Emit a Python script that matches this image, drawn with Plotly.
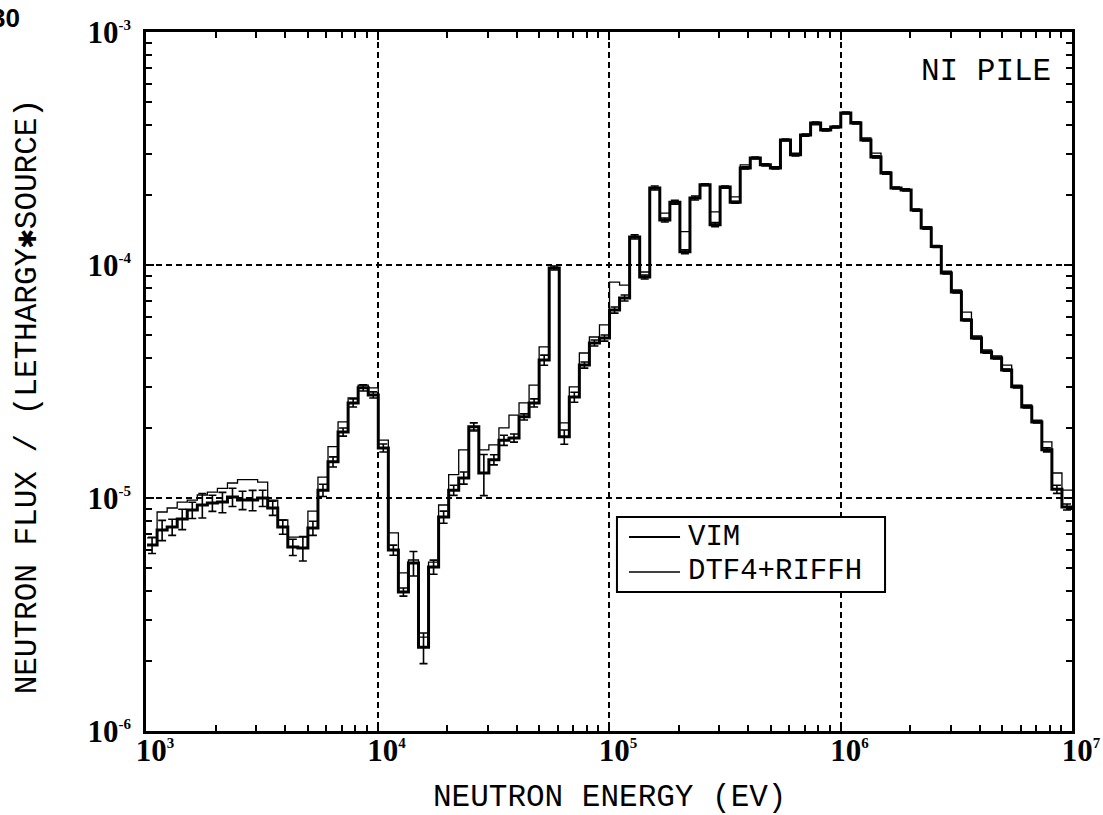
import plotly.graph_objects as go

# Multigroup energy boundaries (eV), lethargy width 0.1, ascending
energy_edges = [
    1010.4, 1116.7, 1234.1, 1363.9, 1507.3, 1665.8, 1841.0, 2034.7, 2248.7, 2485.2,
    2746.5, 3035.4, 3354.6, 3707.4, 4097.4, 4528.3, 5004.5, 5530.8, 6112.6, 6755.4,
    7465.8, 8251.0, 9118.8,
    10078, 11138, 12309, 13604, 15034, 16616, 18363, 20294, 22429, 24788,
    27394, 30276, 33460, 36979, 40868, 45166, 49916, 55166, 60967, 67379,
    74466, 82297, 90953,
    100520, 111090, 122770, 135690, 149960, 165730, 183160, 202420, 223710, 247240,
    273240, 301970, 333730, 368830, 407620, 450490, 497870, 550230, 608100, 672060,
    742740, 820850, 907180,
    1002600, 1108000, 1224600, 1353400, 1495700, 1653000, 1826800, 2019000, 2231300, 2466000,
    2725300, 3011900, 3328700, 3678800, 4065700, 4493300, 4965900, 5488100, 6065300, 6703200,
    7408200, 8187300, 9048400, 10000000,
]

# VIM Monte Carlo flux per unit lethargy per source neutron
vim_flux = [
    6.28e-6, 7.29e-6, 7.51e-6, 8.13e-6, 8.88e-6, 9.33e-6, 9.52e-6, 9.61e-6, 1.01e-5, 9.80e-6,
    9.80e-6, 1.00e-5, 9.06e-6, 7.51e-6, 6.16e-6, 6.10e-6, 7.43e-6, 1.08e-5, 1.43e-5, 1.92e-5,
    2.56e-5, 2.97e-5, 2.77e-5, 1.64e-5, 5.98e-6, 3.95e-6, 5.26e-6, 2.29e-6, 5.06e-6, 8.29e-6,
    1.08e-5, 1.22e-5, 2.02e-5, 1.28e-5, 1.46e-5, 1.77e-5, 1.81e-5, 2.23e-5, 2.56e-5, 3.91e-5,
    9.71e-5, 1.83e-5, 2.71e-5, 3.72e-5, 4.63e-5, 4.86e-5, 6.41e-5, 7.22e-5, 1.32e-4, 8.88e-5,
    2.14e-4, 1.56e-4, 1.86e-4, 1.14e-4, 1.94e-4, 2.21e-4, 1.49e-4, 2.16e-4, 1.86e-4, 2.61e-4,
    2.88e-4, 2.69e-4, 2.61e-4, 3.44e-4, 2.97e-4, 3.61e-4, 4.07e-4, 3.80e-4, 3.91e-4, 4.49e-4,
    4.07e-4, 3.44e-4, 2.91e-4, 2.48e-4, 2.14e-4, 2.10e-4, 1.72e-4, 1.44e-4, 1.20e-4, 9.24e-5,
    7.66e-5, 5.81e-5, 4.86e-5, 4.23e-5, 3.99e-5, 3.54e-5, 3.00e-5, 2.46e-5, 2.12e-5, 1.61e-5,
    1.09e-5, 9.15e-6,
]

# Relative one-sigma statistical uncertainty of the VIM tallies
vim_rel_err = [
    0.08, 0.10, 0.08, 0.10, 0.08, 0.12, 0.08, 0.10, 0.09, 0.09,
    0.10, 0.08, 0.07, 0.07, 0.08, 0.12, 0.07, 0.06, 0.05, 0.04,
    0.04, 0.03, 0.03, 0.04, 0.05, 0.04, 0.12, 0.15, 0.07, 0.06,
    0.05, 0.06, 0.04, 0.20, 0.05, 0.05, 0.04, 0.03, 0.04, 0.05,
    0.02, 0.07, 0.05, 0.03, 0.03, 0.03, 0.03, 0.03, 0.02, 0.02,
    0.02, 0.02, 0.02, 0.02, 0.02, 0.01, 0.02, 0.01, 0.01, 0.01,
    0.01, 0.01, 0.01, 0.01, 0.01, 0.01, 0.01, 0.01, 0.01, 0.01,
    0.01, 0.01, 0.01, 0.01, 0.01, 0.01, 0.01, 0.01, 0.01, 0.01,
    0.01, 0.01, 0.01, 0.01, 0.01, 0.01, 0.01, 0.01, 0.01, 0.02,
    0.04, 0.03,
]

# DTF4 + RIFFH deterministic flux
dtf_flux = [
    6.74e-6, 8.71e-6, 9.06e-6, 9.61e-6, 9.80e-6, 1.03e-5, 1.06e-5, 1.10e-5, 1.16e-5, 1.20e-5,
    1.20e-5, 1.17e-5, 9.80e-6, 8.05e-6, 6.80e-6, 6.80e-6, 8.79e-6, 1.23e-5, 1.66e-5, 2.12e-5,
    2.69e-5, 3.05e-5, 2.97e-5, 1.77e-5, 7.08e-6, 4.77e-6, 5.42e-6, 2.53e-6, 5.31e-6, 9.33e-6,
    1.26e-5, 1.61e-5, 1.96e-5, 1.61e-5, 1.69e-5, 2.00e-5, 2.27e-5, 2.56e-5, 3.05e-5, 4.45e-5,
    9.71e-5, 2.10e-5, 3.00e-5, 4.19e-5, 4.91e-5, 5.53e-5, 8.45e-5, 8.20e-5, 1.32e-4, 9.33e-5,
    2.14e-4, 1.67e-4, 1.85e-4, 1.39e-4, 1.94e-4, 2.21e-4, 1.69e-4, 2.16e-4, 1.96e-4, 2.69e-4,
    2.88e-4, 2.69e-4, 2.63e-4, 3.44e-4, 3.02e-4, 3.61e-4, 3.99e-4, 3.80e-4, 3.91e-4, 4.49e-4,
    4.11e-4, 3.51e-4, 3.02e-4, 2.51e-4, 2.14e-4, 2.10e-4, 1.72e-4, 1.46e-4, 1.21e-4, 9.42e-5,
    7.81e-5, 6.28e-5, 4.96e-5, 4.32e-5, 4.07e-5, 3.72e-5, 3.05e-5, 2.51e-5, 2.16e-5, 1.74e-5,
    1.28e-5, 1.08e-5,
]

series_names = ["VIM", "DTF4+RIFFH"]

x_tick_vals = [1e3, 1e4, 1e5, 1e6, 1e7]
x_tick_text = ["3", "4", "5", "6", "7"]
y_tick_vals = [1e-6, 1e-5, 1e-4, 1e-3]
y_tick_text = ["-6", "-5", "-4", "-3"]

MONO = "Liberation Mono, DejaVu Sans Mono"
SERIF = "Liberation Serif"
TEXT_SIZE = 31
LEGEND_SIZE = 29


def power_label(exp):
    return "<b>10</b><sup><span style='font-size:15px'><b>%s</b></span></sup>" % exp


def step_xy(edges, values):
    return list(edges), list(values) + [values[-1]]


centers = [(energy_edges[i] * energy_edges[i + 1]) ** 0.5 for i in range(len(vim_flux))]
vim_err = [v * r for v, r in zip(vim_flux, vim_rel_err)]

fig = go.Figure()

sx, sy = step_xy(energy_edges, dtf_flux)
fig.add_trace(go.Scatter(x=sx, y=sy, mode="lines", line_shape="hv", name=series_names[1],
                         line=dict(color="black", width=1.3), showlegend=False,
                         hoverinfo="skip"))

sx, sy = step_xy(energy_edges, vim_flux)
fig.add_trace(go.Scatter(x=sx, y=sy, mode="lines", line_shape="hv", name=series_names[0],
                         line=dict(color="black", width=3), showlegend=False,
                         hoverinfo="skip"))

fig.add_trace(go.Scatter(x=centers, y=vim_flux, mode="markers",
                         marker=dict(size=1, color="black"),
                         error_y=dict(type="data", array=vim_err, visible=True,
                                      color="black", thickness=1.6, width=4),
                         showlegend=False, hoverinfo="skip"))

axis_common = dict(
    type="log", showline=True, linecolor="black", linewidth=2.5, mirror="allticks",
    ticks="inside", ticklen=8, tickwidth=1.5, tickcolor="black",
    showgrid=True, gridcolor="black", gridwidth=1.5, griddash="6px,4px",
    zeroline=False, automargin=False,
    minor=dict(ticks="inside", ticklen=6, tickwidth=1.5, tickcolor="black",
               dtick="D1", showgrid=False),
    tickfont=dict(family=SERIF, size=31, color="black"),
)

fig.update_xaxes(range=[3, 7], tickvals=x_tick_vals,
                 ticktext=[power_label(t) for t in x_tick_text],
                 ticklabelstandoff=-10, ticklabelshift=9, **axis_common)
fig.update_yaxes(range=[-6, -3], tickvals=y_tick_vals,
                 ticktext=[power_label(t) for t in y_tick_text],
                 ticklabelstandoff=6, **axis_common)

# Legend panel in paper coordinates
box = dict(x0=0.5086, x1=0.7981, y0=0.1989, y1=0.3062)
key_x0, key_x1, text_x = 0.5216, 0.5767, 0.5842
row_y = [0.2775, 0.2275]
key_widths = [2.0, 1.5]

shapes = [dict(type="rect", xref="paper", yref="paper", layer="above",
               line=dict(color="black", width=2), fillcolor="white", **box)]
legend_text = []
for name, yy, lw in zip(series_names, row_y, key_widths):
    shapes.append(dict(type="line", xref="paper", yref="paper", layer="above",
                       x0=key_x0, x1=key_x1, y0=yy, y1=yy,
                       line=dict(color="black", width=lw)))
    legend_text.append(dict(text=name, xref="paper", yref="paper", x=text_x, y=yy,
                            xanchor="left", yanchor="middle", showarrow=False,
                            borderpad=0,
                            font=dict(family=MONO, size=LEGEND_SIZE)))

fig.update_layout(
    width=1103, height=815,
    margin=dict(l=146, r=31, t=32, b=84),
    paper_bgcolor="white", plot_bgcolor="white",
    font=dict(family=MONO, color="black"),
    showlegend=False,
    shapes=shapes,
    annotations=legend_text + [
        dict(text="NEUTRON ENERGY (EV)", xref="paper", yref="paper",
             x=0.5, y=-0.095, xanchor="center", yanchor="middle", showarrow=False,
             font=dict(family=MONO, size=TEXT_SIZE)),
        dict(text="NEUTRON FLUX / (LETHARGY\u2731SOURCE)", xref="paper", yref="paper",
             x=-0.128, y=0.478, xanchor="center", yanchor="middle", textangle=-90,
             showarrow=False, font=dict(family=MONO, size=TEXT_SIZE)),
        dict(text="NI PILE", xref="paper", yref="paper",
             x=0.9795, y=0.943, xanchor="right", yanchor="middle", showarrow=False,
             font=dict(family=MONO, size=TEXT_SIZE)),
        dict(text="<b>30</b>", xref="paper", yref="paper",
             x=-0.152, y=1.045, xanchor="center", yanchor="top", showarrow=False,
             font=dict(family="Liberation Sans Narrow, Liberation Sans", size=26)),
    ],
)

fig.write_html("out.html")
